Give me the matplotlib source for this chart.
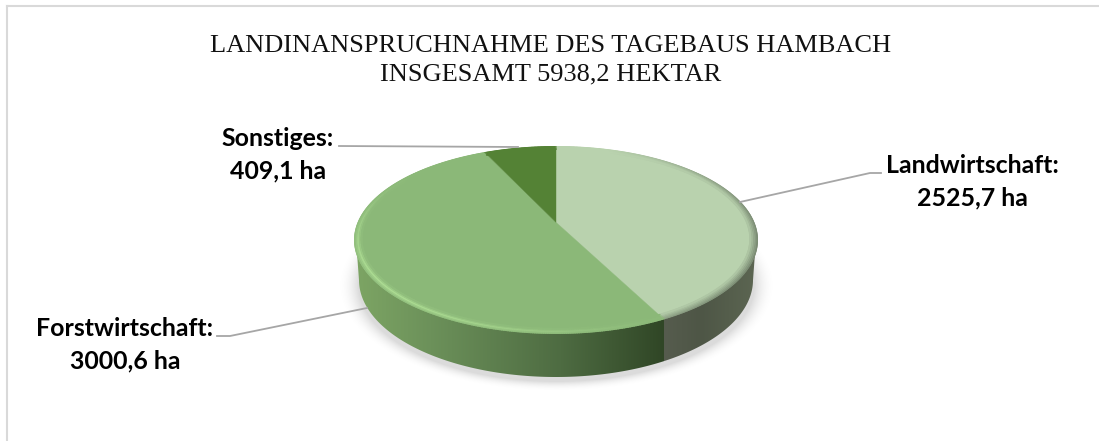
import numpy as np
import matplotlib
matplotlib.use('Agg')
import matplotlib.pyplot as plt
from matplotlib.patches import Polygon
from matplotlib.collections import LineCollection

names = ['Landwirtschaft', 'Forstwirtschaft', 'Sonstiges']
hektar = [2525.7, 3000.6, 409.1]
labels = ['2525,7 ha', '3000,6 ha', '409,1 ha']
colors = ['#B9D2AE', '#8BB878', '#548235']
title = 'LANDINANSPRUCHNAHME DES TAGEBAUS HAMBACH\nINSGESAMT 5938,2 HEKTAR'

W, H = 1099, 441
cx, cy, rx, ry = 556, 240, 201, 93
tilt = -0.19  # perspective, moves the apex up from the ellipse centre
depth = 40


def project(theta, r=1.0):
    # theta clockwise from the top of the pie
    u = r * np.sin(theta)
    v = -r * np.cos(theta)
    d = 1 + tilt * v
    x = u * np.sqrt(1 - tilt ** 2) / d
    y = (v + tilt) / d
    return cx + rx * x, cy + ry * y


fig = plt.figure(figsize=(W / 100, H / 100), dpi=100)
ax = fig.add_axes([0, 0, 1, 1])
ax.axis('off')

# frame, only left and top show
ax.plot([7, 7], [H, 6], color='#D9D9D9', lw=1.5)
ax.plot([7, W], [6, 6], color='#D9D9D9', lw=1.5)

fracs = np.array(hektar) / sum(hektar)
edges = np.concatenate([[0], np.cumsum(fracs)]) * 2 * np.pi

# soft shadow under the pie
yy, xx = np.mgrid[0:H, 0:W]
dist = np.sqrt(((xx - 556) / 206.0) ** 2 + ((yy - 285) / 100.0) ** 2)
shadow = np.zeros((H, W, 4))
shadow[..., :3] = 0.6
shadow[..., 3] = np.clip((1.06 - dist) / 0.1, 0, 1) ** 2 * 0.35
ax.imshow(shadow, extent=[0, W, H, 0], aspect='auto', zorder=1)

# side wall, horizontal gradient clipped to the wall outline
split_x = project(edges[1])[0]
xs = np.arange(W)
ramp = np.zeros((1, W, 3))
for i in range(3):
    green = np.interp(xs, [355, 430, 560, split_x],
                      [[125, 165, 100][i], [108, 145, 90][i], [78, 108, 66][i], [48, 70, 38][i]])
    grey = np.interp(xs, [split_x, 700, 757],
                     [[86, 92, 78][i], [78, 86, 70][i], [92, 102, 82][i]])
    ramp[0, :, i] = np.where(xs < split_x, green, grey) / 255
wall = ax.imshow(ramp, extent=[0, W, H, 0], aspect='auto', zorder=2)
t = np.linspace(0, np.pi, 200)
tx = cx + rx * np.cos(t) * 0.995
top_y = cy + ry * np.sin(t)
bx = cx + (rx - 4) * np.cos(t[::-1])
by = cy + depth + (ry + 4) * np.sin(t[::-1])
outline = Polygon(np.column_stack([np.r_[tx, bx], np.r_[top_y, by]]), closed=True,
                  transform=ax.transData, fc='none', ec='none')
ax.add_patch(outline)
wall.set_clip_path(outline)

# top face
for a, b, c in zip(edges[:-1], edges[1:], colors):
    th = np.linspace(a, b, 200)
    px, py = project(th)
    ax.fill(np.r_[cx, px], np.r_[project(0.0, 0.0)[1], py], color=c, lw=0.3, zorder=3)

# bevel, a few thin rings lit from the lower left
th = np.linspace(0, 2 * np.pi, 721)
mid = (th[:-1] + th[1:]) / 2
ring_r = [1.0, 0.992, 0.984, 0.976, 0.968]
ring_w = [0.25, 0.55, 0.95, 0.5, 0.15]
for r, w in zip(ring_r, ring_w):
    px, py = project(th, r)
    segs = np.stack([np.column_stack([px[:-1], py[:-1]]), np.column_stack([px[1:], py[1:]])], axis=1)
    seg_cols = []
    for m in mid:
        k = min(np.searchsorted(edges, m, side='right') - 1, 2)
        base = np.array(matplotlib.colors.to_rgb(colors[k]))
        if k == 0:
            shade = np.clip(np.sin(m) * 0.9 - np.cos(m) * 0.3, 0, 1)
            col = base * (1 - 0.35 * shade * (r - 0.96) / 0.04)
        elif k == 1:
            light = np.clip(-np.sin(m) * 0.75 - np.cos(m) * 0.65, 0, 1)
            col = base + (np.array([0.68, 0.87, 0.58]) - base) * light ** 2 * w
        else:
            col = base
        seg_cols.append(col)
    ax.add_collection(LineCollection(segs, colors=seg_cols, linewidths=1.4, zorder=4, capstyle='round'))

# leader lines
leaders = [([740, 870, 881], [202, 173, 173]),
           ([217, 230, 367], [336, 336, 308]),
           ([339, 518], [146, 147])]
for lx, ly in leaders:
    ax.plot(lx, ly, color='#A6A6A6', lw=1.3, zorder=5)

# labels
label_pos = [(972, 182), (125, 345), (278, 155)]
for name, lab, (x, y) in zip(names, labels, label_pos):
    ax.text(x, y, name + ':\n' + lab, ha='center', va='center', fontsize=17.9,
            family='Lato', weight='bold', color='black', linespacing=1.5, zorder=6)

ax.text(551, 60, title, ha='center', va='center', fontsize=19, family='Liberation Serif',
        color='#111111', linespacing=1.36)

ax.set_xlim(0, W)
ax.set_ylim(H, 0)
fig.savefig('out.png', dpi=100)
